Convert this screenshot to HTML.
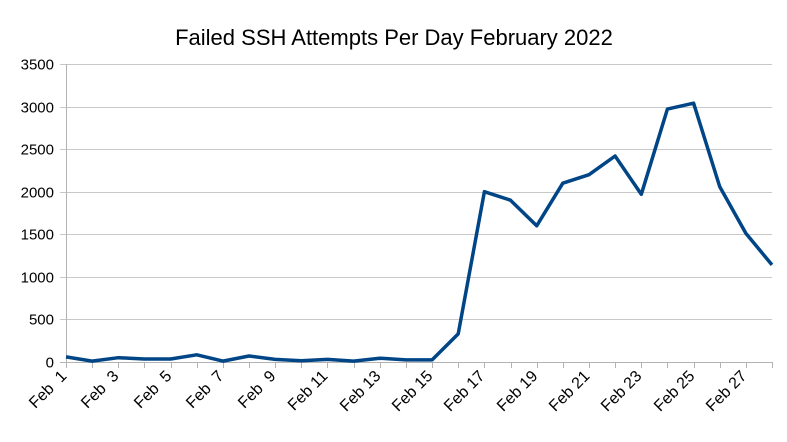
<!DOCTYPE html>
<html><head><meta charset="utf-8"><style>body{margin:0;background:#fff}svg{display:block}</style></head><body>
<svg width="787" height="442" xmlns="http://www.w3.org/2000/svg" font-family="Liberation Sans, sans-serif">
<rect width="787" height="442" fill="#fff"/>
<text x="394" y="45" font-size="22" text-anchor="middle" fill="#000">Failed SSH Attempts Per Day February 2022</text>
<g id="grid" stroke="#c8c8c8" stroke-width="1"></g>
<g id="ylab" font-size="15" text-anchor="end" fill="#000"></g>
<g id="xt" stroke="#b3b3b3" stroke-width="1"></g>
<g id="xlab" font-size="16" text-anchor="end" fill="#000"></g>
<polyline id="line" fill="none" stroke="#004586" stroke-width="3.5" stroke-linejoin="round"/>
</svg>
<script>
var ns="http://www.w3.org/2000/svg";
function el(p,t,a,txt){var e=document.createElementNS(ns,t);for(var k in a)e.setAttribute(k,a[k]);if(txt!=null)e.textContent=txt;document.getElementById(p).appendChild(e);return e;}
var x0=66,x1=772,y0=362,y1=64;
function Y(v){return y0-(y0-y1)*v/3500;}
function X(i){return x0+(x1-x0)*i/27;}
for(var v=0;v<=3500;v+=500){var y=Math.round(Y(v))+0.5;
 el("grid","line",{x1:60,x2:x1,y1:y,y2:y,stroke:v==0?"#b3b3b3":"#c8c8c8"});
 el("ylab","text",{x:54,y:y+5},v);}
el("grid","line",{x1:x0+0.5,x2:x0+0.5,y1:y1,y2:y0+6,stroke:"#b3b3b3"});
for(var i=0;i<28;i++){var x=Math.round(X(i))+0.5;el("xt","line",{x1:x,x2:x,y1:y0,y2:y0+6});
 if(i%2==0){var d=i+1;var s="Feb "+(d<10?"\u00a0"+d:d);
 el("xlab","text",{x:x+1,y:y0+15,transform:"rotate(-45 "+(x+1)+" "+(y0+15)+")"},s);}}
var data=[60,10,50,35,35,85,10,70,30,15,30,10,45,25,25,330,2000,1900,1600,2100,2200,2420,1970,2970,3040,2060,1510,1140];
document.getElementById("line").setAttribute("points",data.map(function(v,i){return X(i).toFixed(1)+","+Y(v).toFixed(1)}).join(" "));
</script>
</body></html>
